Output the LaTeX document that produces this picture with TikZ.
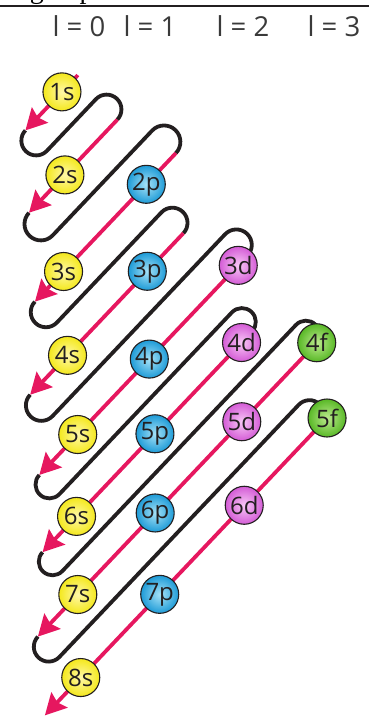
\documentclass[tikz,border=0pt]{standalone}
\usepackage{fontspec}
\setmainfont{Open Sans}
\newfontfamily\serifcut{Liberation Serif}
\usetikzlibrary{arrows.meta}
\definecolor{snakered}{HTML}{E6175F}
\definecolor{snakeblk}{HTML}{231F20}
\definecolor{hdrgray}{HTML}{3A3A3A}
\definecolor{yelOut}{HTML}{F4E81C}
\definecolor{yelIn}{HTML}{FFF8A8}
\definecolor{cyaOut}{HTML}{1E9BD7}
\definecolor{cyaIn}{HTML}{A6E2F7}
\definecolor{magOut}{HTML}{D45CD6}
\definecolor{magIn}{HTML}{F8C8F6}
\definecolor{grnOut}{HTML}{58B826}
\definecolor{grnIn}{HTML}{BDEB8E}
\begin{document}
\begin{tikzpicture}[x=1pt,y=1pt,
  redln/.style={draw=snakered,line width=3.8pt,-{Stealth[length=21pt,width=22pt,inset=3pt]}},
  blkln/.style={draw=snakeblk,line width=3.8pt},
  orb/.style={circle,draw=snakeblk,line width=1.1pt,minimum size=38pt,inner sep=0pt,
    text=snakeblk,font=\fontsize{24}{24}\selectfont},
  sorb/.style={orb,inner color=yelIn,outer color=yelOut},
  porb/.style={orb,inner color=cyaIn,outer color=cyaOut},
  dorb/.style={orb,inner color=magIn,outer color=magOut},
  forb/.style={orb,inner color=grnIn,outer color=grnOut},
  hdr/.style={font=\fontsize{27.5}{27.5}\selectfont,text=hdrgray,anchor=base,inner sep=0pt}]
\useasboundingbox (0,0) rectangle (369,717);

% top rule and cut-off caption
\begin{scope}
  \clip (0,712.8) rectangle (369,717);
  \node[anchor=base west,inner sep=0pt,font=\serifcut\fontsize{28}{28}\selectfont] (cap) at (14,718.5) {\phantom{F}g\phantom{ure}p};
\end{scope}
\draw[line width=2.4pt,snakeblk] (0,710.8) coordinate (ruleL) -- (369,710.8) coordinate (ruleR);

% headers
\node[hdr] (h0) at (79,680) {l = 0};
\node[hdr] (h1) at (150,680) {l = 1};
\node[hdr] (h2) at (243,680) {l = 2};
\node[hdr] (h3) at (334,680) {l = 3};

% snake in the rotated frame: (s,t), s along the diagonal (up-right), t across
\begin{scope}[shift={(0,717)},rotate=46.5,yscale=-1]
  % black return loops
  \draw[blkln] (-77.1,108.2) coordinate (e1) arc[start angle=270,end angle=90,radius=14.825]
     -- (-6,137.85) arc[start angle=-90,end angle=90,radius=14.825] coordinate (s2);
  \draw[blkln] (-134.4,167.5) coordinate (e2) arc[start angle=270,end angle=90,radius=16.375]
     -- (10,200.25) arc[start angle=-90,end angle=90,radius=16.375] coordinate (s3);
  \draw[blkln] (-194.8,233) coordinate (e3) arc[start angle=270,end angle=90,radius=15.15]
     -- (-43,263.3) arc[start angle=-90,end angle=90,radius=15.15] coordinate (s4);
  \draw[blkln] (-265.6,293.6) coordinate (e4) arc[start angle=270,end angle=90,radius=15.475]
     -- (-15,324.55) arc[start angle=-90,end angle=90,radius=15.475] coordinate (s5);
  \draw[blkln] (-317.5,355.5) coordinate (e5) arc[start angle=270,end angle=90,radius=13.875]
     -- (-67,383.25) arc[start angle=-90,end angle=90,radius=13.875] coordinate (s6);
  \draw[blkln] (-371.3,411) coordinate (e6) arc[start angle=270,end angle=90,radius=13.675]
     -- (-32,438.35) arc[start angle=-90,end angle=90,radius=13.675] coordinate (s7);
  \draw[blkln] (-435.7,465.7) coordinate (e7) arc[start angle=270,end angle=90,radius=14.825]
     -- (-88,495.35) arc[start angle=-90,end angle=90,radius=14.825] coordinate (s8);
  \coordinate (s1) at (-0.9,108.2);
  \coordinate (e8) at (-488,525);
  % red diagonals with arrows
  \draw[redln] (s1) -- (e1);
  \draw[redln] (s2) -- (e2);
  \draw[redln] (s3) -- (e3);
  \draw[redln] (s4) -- (e4);
  \draw[redln] (s5) -- (e5);
  \draw[redln] (s6) -- (e6);
  \draw[redln] (s7) -- (e7);
  \draw[redln] (s8) -- (e8);
  % orbitals
  \node[sorb] (o1s) at (-24,108.2) {1s};
  \node[sorb] (o2s) at (-82.2,167.5) {2s};
  \node[porb] (o2p) at (-33,233) {2p};
  \node[sorb] (o3s) at (-153.2,233) {3s};
  \node[porb] (o3p) at (-95.4,293.6) {3p};
  \node[sorb] (o4s) at (-211.3,293.6) {4s};
  \node[dorb] (o3d) at (-28.5,355.5) {3d};
  \node[porb] (o4p) at (-157.7,355.5) {4p};
  \node[sorb] (o5s) at (-261.7,355.5) {5s};
  \node[dorb] (o4d) at (-82.2,411) {4d};
  \node[porb] (o5p) at (-208,411) {5p};
  \node[sorb] (o6s) at (-321.9,411) {6s};
  \node[forb] (o4f) at (-30.6,465.7) {4f};
  \node[dorb] (o5d) at (-139.5,465.7) {5d};
  \node[porb] (o6p) at (-265.3,465.7) {6p};
  \node[sorb] (o7s) at (-377.7,465.7) {7s};
  \node[forb] (o5f) at (-78.1,525) {5f};
  \node[dorb] (o6d) at (-198.4,525) {6d};
  \node[porb] (o7p) at (-321.2,525) {7p};
  \node[sorb] (o8s) at (-435.9,525) {8s};
\end{scope}
\end{tikzpicture}
\end{document}
